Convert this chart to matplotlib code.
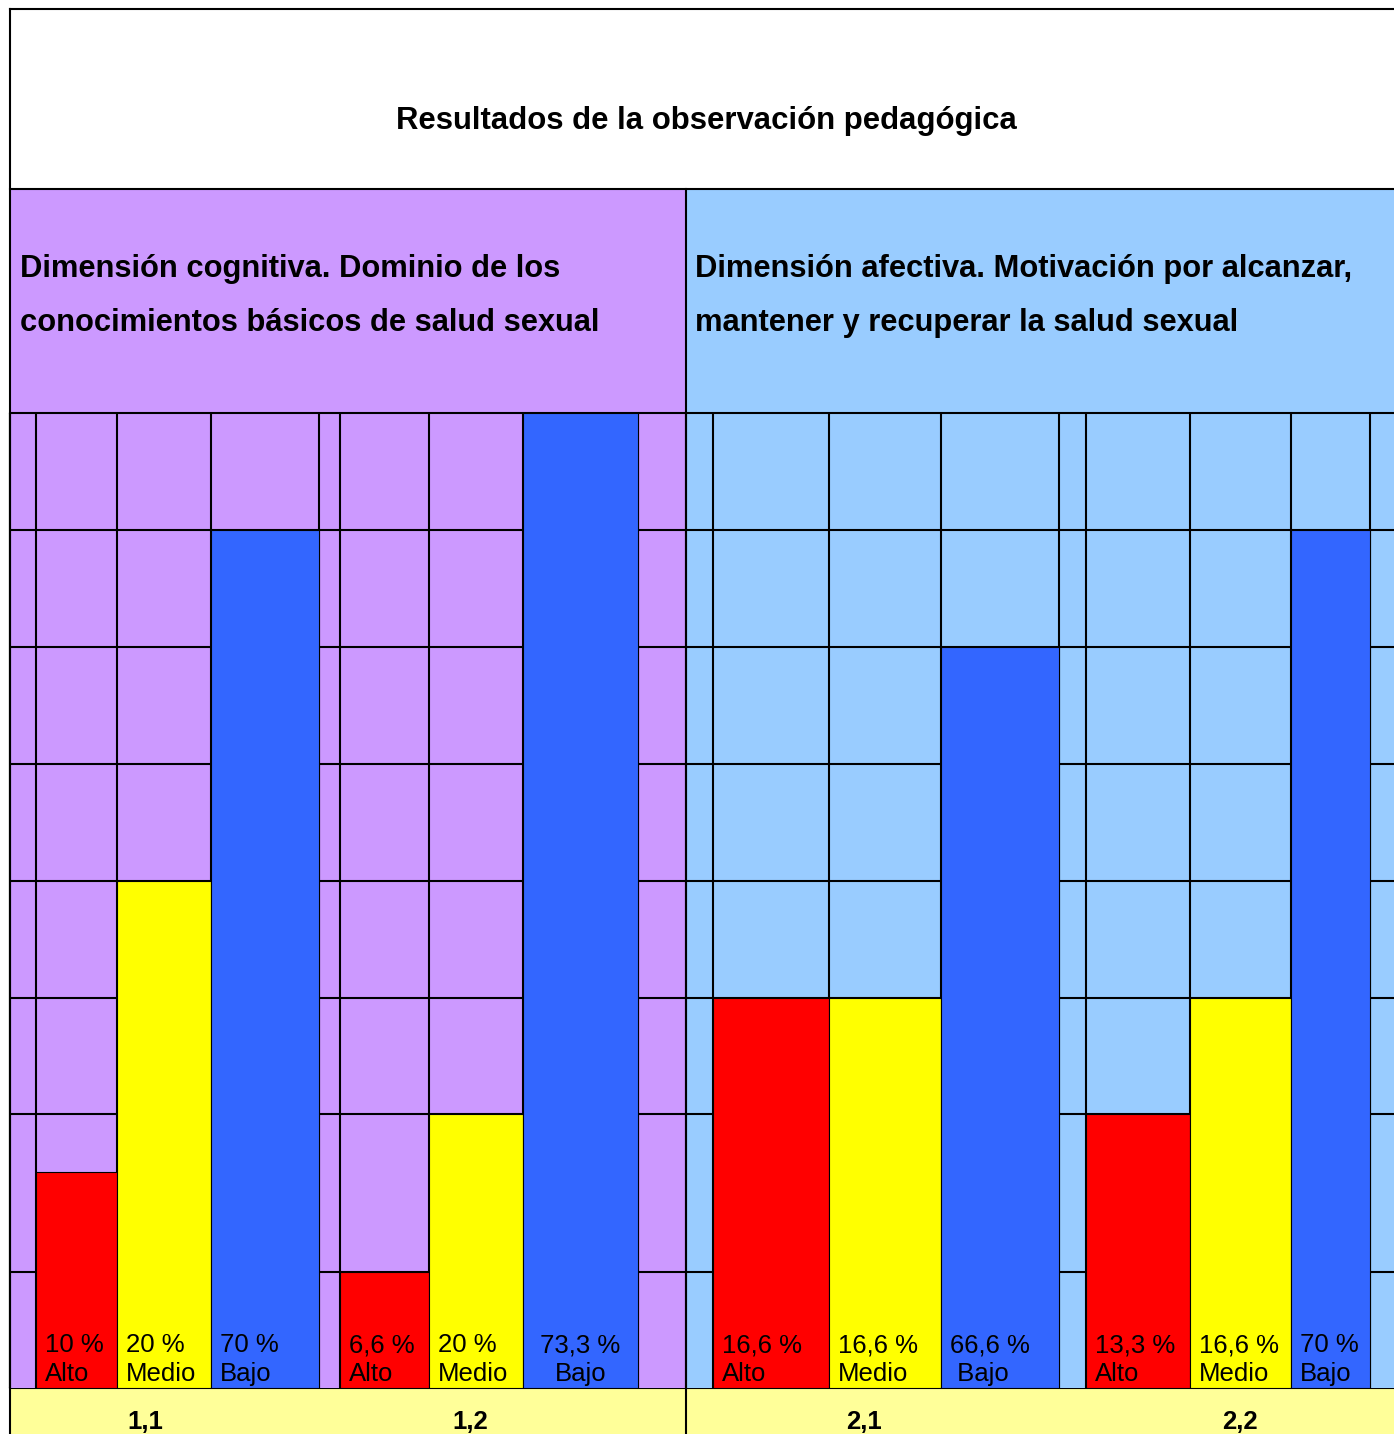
import matplotlib.pyplot as plt

plt.rcParams['font.family'] = ['Liberation Sans', 'DejaVu Sans']

title = "Resultados de la observación pedagógica"
headers = [["Dimensión cognitiva. Dominio de los", "conocimientos básicos de salud sexual"],
           ["Dimensión afectiva. Motivación por alcanzar,", "mantener y recuperar la salud sexual"]]
groups = ["1,1", "1,2", "2,1", "2,2"]
levels = ["Alto", "Medio", "Bajo"]
percent = [[10, 20, 70], [6.6, 20, 73.3], [16.6, 16.6, 66.6], [13.3, 16.6, 70]]
# bar heights as drawn in the picture (share of the plotting column, in %)
heights = [[22.2, 52, 88], [11.9, 28.1, 100], [40, 40, 76], [28.1, 40, 88]]
grid_levels = [11.9, 28.1, 40, 52, 64, 76, 88, 100]

bar_colors = ["#FF0000", "#FFFF00", "#3366FF"]
purple = "#CC99FF"
lightblue = "#99CCFF"
paleyellow = "#FFFF99"

# layout (pixels)
W, H = 1394, 1434
col_edges = [[36, 117, 211, 319], [340, 429, 523, 638],
             [713, 829, 941, 1059], [1086, 1190, 1291, 1370]]
group_x = [145, 470, 864, 1240]
chart_top, chart_bot = 413, 1388

fig = plt.figure(figsize=(W / 100, H / 100), dpi=100)

# table frame
ax_t = fig.add_axes([0, 0, 1, 1])
ax_t.set_xlim(0, W)
ax_t.set_ylim(H, 0)
ax_t.axis("off")
ax_t.add_patch(plt.Rectangle((10, 189), 676, chart_top - 189, color=purple, zorder=0))
ax_t.add_patch(plt.Rectangle((686, 189), W - 686, chart_top - 189, color=lightblue, zorder=0))
ax_t.add_patch(plt.Rectangle((10, chart_bot), W - 10, H - chart_bot, color=paleyellow, zorder=0))
lw = 1.5
ax_t.plot([10, W], [9, 9], color="black", lw=lw)
ax_t.plot([10, 10], [9, H], color="black", lw=lw)
for yy in [189, chart_top, chart_bot]:
    ax_t.plot([10, W], [yy, yy], color="black", lw=lw)
ax_t.plot([686, 686], [189, H], color="black", lw=lw)

ax_t.text(706, 121, title, ha="center", va="center", fontsize=22.4, fontweight="bold")
for hx, lines in zip([20, 695], headers):
    for i, line in enumerate(lines):
        ax_t.text(hx, 269 + 54 * i, line, ha="left", va="center", fontsize=22.2, fontweight="bold")
for gx, g in zip(group_x, groups):
    ax_t.text(gx, 1429, g, ha="center", va="baseline", fontsize=18.5, fontweight="bold")

# chart region
ax = fig.add_axes([0, (H - chart_bot) / H, 1, (chart_bot - chart_top) / H])
ax.set_xlim(0, W)
ax.set_ylim(0, 100)
ax.axis("off")
ax.patch.set_alpha(0)
ax.axvspan(10, 686, color=purple, zorder=0)
ax.axvspan(686, W, color=lightblue, zorder=0)
ax.hlines(grid_levels, 10, W, color="black", lw=lw, zorder=1)
vlines = [10, 686] + [e for edges in col_edges for e in edges]
ax.vlines(vlines, 0, 100, color="black", lw=lw, zorder=1)

for gi in range(len(groups)):
    edges = col_edges[gi]
    for li in range(len(levels)):
        left, right = edges[li], edges[li + 1]
        ax.bar(left, heights[gi][li], width=right - left, align="edge",
               color=bar_colors[li], edgecolor="black", lw=0.8, zorder=2)
        pct = f"{percent[gi][li]:g}".replace(".", ",") + " %"
        lvl = levels[li]
        if gi == 2 and li == 2:
            lvl = " " + lvl
        if gi == 1 and li == 2:
            xx, ha = (left + right) / 2, "center"
        else:
            xx, ha = left + 9, "left"
        ax.text(xx, (chart_bot - 1345) / (chart_bot - chart_top) * 100, pct,
                ha=ha, va="center", fontsize=18.5, zorder=3)
        ax.text(xx, (chart_bot - 1374) / (chart_bot - chart_top) * 100, lvl,
                ha=ha, va="center", fontsize=18.5, zorder=3)
ax.vlines([10, 686], 0, 100, color="black", lw=lw, zorder=4)

fig.savefig("out.png", dpi=100)
